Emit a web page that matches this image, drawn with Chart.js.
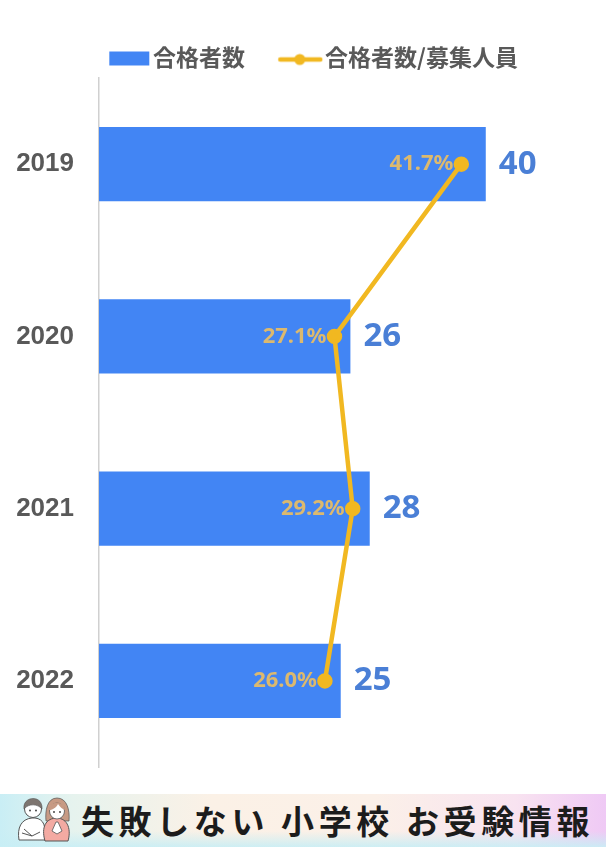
<!DOCTYPE html>
<html lang="ja"><head><meta charset="utf-8">
<script src="https://cdn.jsdelivr.net/npm/chart.js@4"></script>
<style>
html,body{margin:0;padding:0;background:#fff;width:606px;height:847px;overflow:hidden}
#wrap{position:relative;width:606px;height:847px}
canvas{display:block}
#banner{position:absolute;left:0;top:794px;width:606px;height:53px;overflow:hidden;
background:linear-gradient(180deg,rgba(255,255,255,0) 70%,rgba(200,238,245,.9) 100%),linear-gradient(90deg,#c9eef5 0%,#e6f3ee 12%,#fbf1e6 35%,#fbf0e8 62%,#f8e3f0 85%,#efc9f5 100%)}
#bt{position:absolute;left:81px;top:4px;font:700 33px/44px "Noto Sans CJK JP";color:#1c1c1c;letter-spacing:4.6px;white-space:pre}
#banner svg{position:absolute;left:16px;top:1px}
</style></head><body>
<div id="wrap"><canvas id="c" width="606" height="847"></canvas>
<div id="banner"><svg width="56" height="50" viewBox="0 0 56 50">
<path d="M3 45c-2-12 2-21 13-22h3c9 1 11 8 10 22z" fill="#fff" stroke="#555" stroke-width="1"/>
<path d="M6 38l10 3 8-4M8 34l8 7" fill="none" stroke="#555" stroke-width="1"/>
<circle cx="17" cy="14" r="8.5" fill="#fff" stroke="#555" stroke-width="1"/>
<path d="M8 14c-2-13 19-15 18 0c-4-5-13-6-18 0z" fill="#7d7570" stroke="#555" stroke-width=".6"/>
<circle cx="14" cy="15.5" r=".9" fill="#333"/><circle cx="20" cy="15.5" r=".9" fill="#333"/>
<path d="M30 26c-1-10 1-23 11-23c10 0 13 12 12 23z" fill="#c79a84" stroke="#555" stroke-width=".7"/>
<path d="M29 46c-3-10-2-22 11-23c13 0 15 13 12 23z" fill="#f3aaa2" stroke="#555" stroke-width="1"/>
<ellipse cx="41" cy="16" rx="7.5" ry="8" fill="#fff" stroke="#555" stroke-width=".8"/>
<path d="M33 15c3 0 7-2 9-6c2 3 4 5 7 6c0-9-16-10-16 0z" fill="#c79a84"/>
<circle cx="38" cy="17" r=".9" fill="#333"/><circle cx="44" cy="17" r=".9" fill="#333"/>
<path d="M40 27l-4 9 5 3 5-3-4-9z" fill="#fff" stroke="#555" stroke-width=".8"/>
</svg><div id="bt">失敗しない 小学校 お受験情報</div></div></div>
<script>
const categories = ["2019", "2020", "2021", "2022"];
const passers = [40, 26, 28, 25];
const passRate = [41.7, 27.1, 29.2, 26.0];
const seriesBar = "合格者数";
const seriesLine = "合格者数/募集人員";
const BLUE = "#4285f4", GOLD = "#f1b821";

function marker(w, h, draw){const k=document.createElement("canvas");k.width=w;k.height=h;draw(k.getContext("2d"));return k;}
const barMark = marker(61, 18, g=>{g.fillStyle=BLUE;g.fillRect(15,3,40,14);});
const lineMark = marker(61, 18, g=>{g.strokeStyle=GOLD;g.lineWidth=4.5;g.lineCap="round";g.beginPath();g.moveTo(14,11);g.lineTo(54,11);g.stroke();g.fillStyle=GOLD;g.beginPath();g.arc(33.5,11,5.5,0,7);g.fill();});

const valueLabels = {
  id:"valueLabels",
  afterDatasetsDraw(chart){
    const g=chart.ctx;g.save();g.textBaseline="middle";
    chart.getDatasetMeta(1).data.forEach((el,i)=>{
      g.font='700 33px "Noto Sans"';g.fillStyle="#4a7fd6";g.textAlign="left";
      g.fillText(String(passers[i]),el.x+13,el.y);
    });
    chart.getDatasetMeta(0).data.forEach((el,i)=>{
      g.font='700 22px "Noto Sans"';g.fillStyle="#dcb96f";g.textAlign="right";
      g.fillText(passRate[i].toFixed(1)+"%",el.x-8,el.y);
    });
    g.restore();
  }
};
const legendHeight = {
  id:"legendHeight",
  beforeLayout(chart){
    const l=chart.legend;if(!l||l._patched)return;l._patched=true;
    const f=l.fit.bind(l);l.fit=function(){f();this.height=67;};
  }
};
new Chart(document.getElementById("c"),{
  data:{labels:categories,datasets:[
    {type:"line",label:seriesLine,data:passRate,xAxisID:"x2",yAxisID:"y",indexAxis:"y",order:0,
     borderColor:GOLD,backgroundColor:GOLD,borderWidth:4.5,pointRadius:5.5,pointHoverRadius:5.5,pointBackgroundColor:GOLD,pointBorderColor:GOLD,tension:0,fill:false},
    {type:"bar",label:seriesBar,data:passers,xAxisID:"x",yAxisID:"y",order:1,
     backgroundColor:BLUE,barPercentage:.43,categoryPercentage:1}
  ]},
  options:{
    indexAxis:"y",responsive:false,animation:false,
    layout:{padding:{left:10,right:-10,top:11,bottom:80}},
    plugins:{tooltip:{enabled:false},
      legend:{position:"top",labels:{
        color:"#595959",font:{family:'"Noto Sans CJK JP"',size:23,weight:"700"},
        usePointStyle:true,pointStyleWidth:33.5,padding:35,
        generateLabels(){return [
          {text:seriesBar,pointStyle:barMark,fontColor:"#595959",datasetIndex:1,lineWidth:0},
          {text:seriesLine,pointStyle:lineMark,fontColor:"#595959",datasetIndex:0,lineWidth:0}];}
      }}
    },
    scales:{
      x:{type:"linear",min:0,max:51.4,display:false,grid:{display:false}},
      x2:{type:"linear",min:0,max:57.2,display:false,grid:{display:false}},
      y:{type:"category",position:"left",
        grid:{display:false,drawTicks:false},
        border:{display:true,color:"#d0d0d0",width:1.5},
        ticks:{color:"#595959",font:{family:'"Liberation Sans"',size:26,weight:"700"},padding:25},
        afterFit(s){s.width=89;}
      }
    }
  },
  plugins:[valueLabels,legendHeight]
});
</script></body></html>
